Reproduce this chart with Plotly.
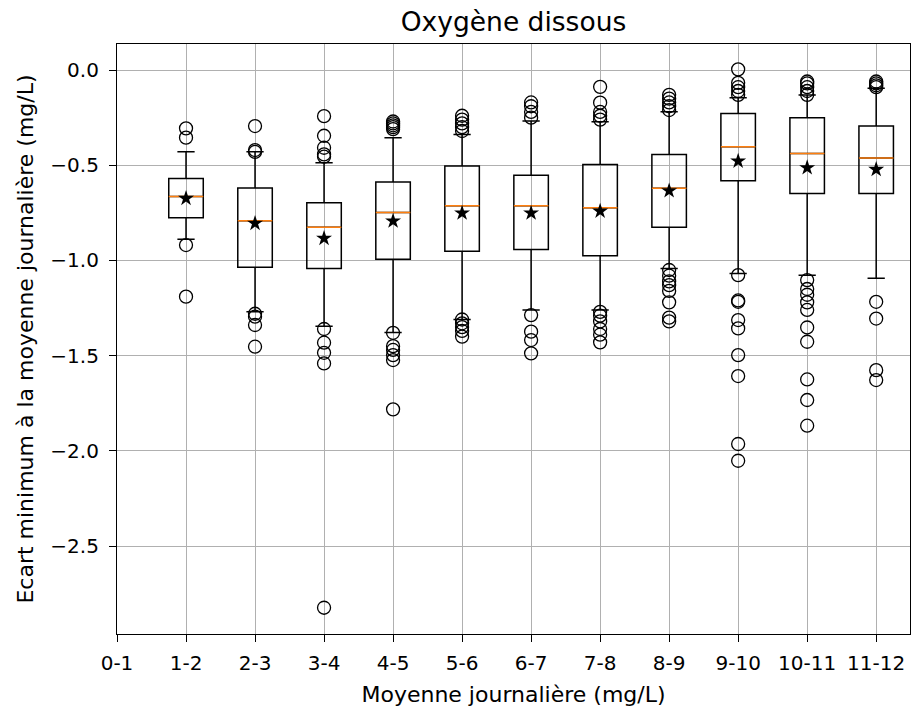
import plotly.graph_objects as go

categories = ["0-1", "1-2", "2-3", "3-4", "4-5", "5-6", "6-7", "7-8", "8-9", "9-10", "10-11", "11-12"]
box_pos = [1, 2, 3, 4, 5, 6, 7, 8, 9, 10, 11]
q1 = [-0.776, -1.036, -1.042, -0.993, -0.951, -0.942, -0.975, -0.826, -0.581, -0.648, -0.648]
median = [-0.664, -0.791, -0.825, -0.748, -0.713, -0.713, -0.723, -0.621, -0.403, -0.438, -0.462]
q3 = [-0.569, -0.620, -0.697, -0.588, -0.504, -0.553, -0.496, -0.443, -0.228, -0.250, -0.294]
lower_whisker = [-0.889, -1.269, -1.345, -1.379, -1.310, -1.260, -1.260, -1.042, -1.068, -1.077, -1.094]
upper_whisker = [-0.429, -0.429, -0.487, -0.355, -0.338, -0.268, -0.271, -0.219, -0.145, -0.131, -0.096]
means = [-0.674, -0.805, -0.884, -0.793, -0.751, -0.751, -0.741, -0.634, -0.478, -0.513, -0.522]
outliers = [
    [-0.306, -0.355, -0.919, -1.19],
    [-0.294, -0.42, -0.43, -1.28, -1.295, -1.339, -1.453],
    [-0.242, -0.345, -0.408, -0.443, -0.455, -1.36, -1.432, -1.485, -1.541, -2.824],
    [-0.27, -0.28, -0.29, -0.30, -0.31, -1.38, -1.45, -1.47, -1.497, -1.523, -1.782],
    [-0.24, -0.26, -0.28, -0.30, -0.32, -1.31, -1.33, -1.35, -1.37, -1.40],
    [-0.17, -0.19, -0.22, -0.25, -1.287, -1.374, -1.418, -1.488],
    [-0.088, -0.171, -0.22, -0.24, -0.26, -1.27, -1.29, -1.32, -1.36, -1.39, -1.43],
    [-0.13, -0.15, -0.17, -0.19, -0.21, -1.05, -1.08, -1.11, -1.13, -1.16, -1.22, -1.30, -1.32],
    [0.004, -0.067, -0.09, -0.11, -0.13, -1.077, -1.21, -1.217, -1.313, -1.357, -1.497, -1.607, -1.964, -2.052],
    [-0.06, -0.07, -0.09, -0.11, -0.13, -1.103, -1.15, -1.18, -1.22, -1.26, -1.352, -1.427, -1.625, -1.733, -1.868],
    [-0.06, -0.07, -0.08, -0.09, -1.217, -1.305, -1.576, -1.628],
]
y_ticks = [0.0, -0.5, -1.0, -1.5, -2.0, -2.5]

BOX_W = 0.5
font = "DejaVu Sans"

fig = go.Figure()

fig.add_trace(go.Box(
    x=box_pos, q1=q1, median=median, q3=q3,
    lowerfence=lower_whisker, upperfence=upper_whisker,
    boxpoints=False, width=BOX_W, whiskerwidth=0.5,
    fillcolor="rgba(0,0,0,0)", line=dict(color="black", width=1.5),
    showlegend=False, hoverinfo="skip",
))

mx, my = [], []
for p, m in zip(box_pos, median):
    mx += [p - BOX_W / 2, p + BOX_W / 2, None]
    my += [m, m, None]
fig.add_trace(go.Scatter(x=mx, y=my, mode="lines",
                         line=dict(color="#ff7f0e", width=1.5), showlegend=False))

fig.add_trace(go.Scatter(x=box_pos, y=means, mode="markers",
                         marker=dict(symbol="star", size=12, color="black"),
                         showlegend=False))

ox, oy = [], []
for p, vals in zip(box_pos, outliers):
    for v in vals:
        ox.append(p)
        oy.append(v)
fig.add_trace(go.Scatter(x=ox, y=oy, mode="markers",
                         marker=dict(symbol="circle-open", size=13,
                                     color="black", line=dict(width=1.3)),
                         showlegend=False))

fig.update_layout(
    width=912, height=710,
    margin=dict(l=117, r=2, t=44, b=76),
    paper_bgcolor="white", plot_bgcolor="white",
    font=dict(family=font, size=18, color="black"),
    title=dict(text="Oxygène dissous", x=(117 + 910) / 2 / 912, xanchor="center",
               y=1 - 22 / 710, yanchor="middle", font=dict(size=26.5)),
)
common = dict(
    showgrid=True, gridcolor="#b0b0b0", gridwidth=1,
    showline=True, linecolor="black", linewidth=1.2, mirror=True,
    ticks="outside", ticklen=7, tickwidth=1.2, tickcolor="black", zeroline=False,
    tickfont=dict(size=20), automargin=False,
)
fig.update_xaxes(
    range=[0, 11.49], tickmode="array", tickvals=list(range(len(categories))),
    ticktext=categories, ticklabelstandoff=4,
    title=dict(text="Moyenne journalière (mg/L)", font=dict(size=22), standoff=12),
    **common,
)
fig.update_yaxes(
    range=[-2.962, 0.137], tickmode="array", tickvals=y_ticks, tickformat=".1f",
    ticklabelstandoff=6,
    title=dict(text="Ecart minimum à la moyenne journalière (mg/L)", font=dict(size=22), standoff=10),
    **common,
)

fig.write_html("out.html", config={"displayModeBar": False},
               post_script="document.body.style.margin='0px';")
